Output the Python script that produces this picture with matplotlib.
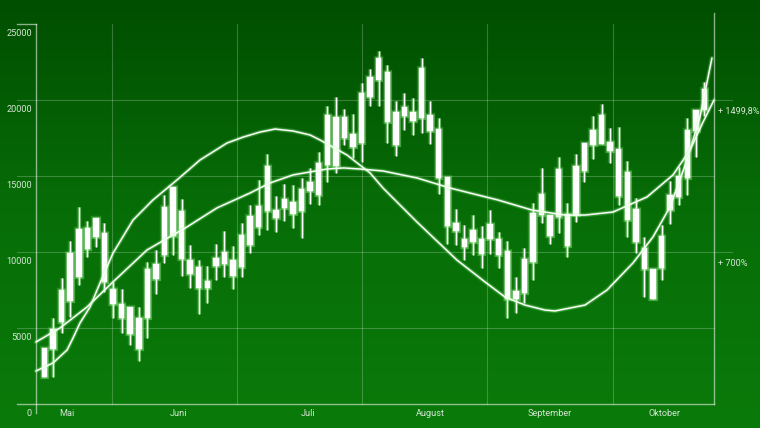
"""Green candlestick chart with two trend curves, written to out.png."""
import numpy as np
import matplotlib
matplotlib.use("Agg")
import matplotlib.pyplot as plt
import matplotlib.patheffects as pe
from matplotlib.colors import LinearSegmentedColormap

# ---- data ----
opens = [1780, 3620, 5400, 6780, 8360, 10200, 10990, 8030, 6580, 5660,
         4610, 3620, 5660, 8220, 9800, 11050, 9540, 8550, 7630, 7630,
         9080, 9210, 8420, 9010, 10460, 11650, 12700, 12240, 12890, 12500,
         12700, 14010, 13750, 15720, 15660, 17500, 16910, 17170, 20200, 21320,
         18550, 17040, 18950, 18620, 18820, 17960, 14870, 11710, 11380, 10330,
         10660, 9870, 10860, 9800, 6910, 6910, 7300, 9340, 12430, 11050,
         12300, 10390, 12430, 15330, 17040, 17110, 16650, 13680, 12110, 10660,
         8880, 6910, 8950, 12760, 13620, 14870, 17960, 19340]
closes = [3680, 4930, 7500, 9930, 11510, 11580, 12240, 11250, 7570, 6580,
          6380, 5660, 8880, 9210, 12960, 14280, 12700, 9470, 9010, 8090,
          9610, 10000, 9470, 11120, 12370, 13030, 15660, 12760, 13490, 13290,
          14150, 14610, 15860, 19010, 18880, 18880, 17760, 20460, 21510, 22760,
          21840, 19210, 19540, 19210, 22110, 19010, 18090, 14930, 11910, 10860,
          11450, 10860, 11840, 10860, 10070, 7430, 9540, 12570, 13820, 12430,
          15460, 12500, 15660, 17170, 18030, 19010, 17240, 16780, 15260, 12830,
          10260, 8880, 11050, 13750, 15000, 18030, 19340, 20720]
highs = [3680, 5660, 8290, 10720, 12960, 12040, 12240, 11910, 8030, 7570,
         6380, 6380, 9340, 10130, 13750, 14280, 13490, 10460, 9470, 9080,
         10530, 11380, 10390, 11910, 13090, 14740, 16450, 13680, 14470, 14410,
         14870, 15530, 16580, 19610, 20200, 19410, 19080, 21120, 22040, 23220,
         22300, 19930, 20460, 20130, 22760, 19930, 18820, 14930, 12830, 11780,
         12430, 11710, 12760, 11320, 10720, 8360, 10260, 13220, 15530, 12430,
         16250, 13220, 16450, 17170, 18950, 19740, 18160, 18220, 15990, 13550,
         10990, 8880, 11780, 14670, 15590, 18820, 19340, 21180]
lows = [1780, 1780, 4670, 5720, 7830, 9670, 10330, 7370, 5660, 4670,
        3880, 2830, 4340, 7240, 9280, 9800, 8420, 7630, 5920, 6650,
        8160, 8360, 7570, 8360, 9930, 11120, 11450, 11320, 12040, 11580,
        10920, 13160, 13090, 14610, 15200, 17040, 16180, 15920, 19610, 19610,
        17170, 16320, 18030, 17700, 17830, 17110, 13820, 10530, 10460, 9470,
        9800, 8950, 9870, 8950, 5660, 5990, 6650, 8160, 11910, 10530,
        11250, 9670, 11970, 14610, 16120, 17110, 15860, 13090, 10990, 9930,
        7040, 6910, 8160, 11840, 13090, 13750, 16250, 18950]

# steep trend curve (x = candle index, y = value)
curve_a_x = [-0.99, 0.99, 2.63, 3.33, 4.14, 5.31, 6.48, 8.0, 10.33, 12.65,
             15.46, 18.14, 21.3, 23.19, 25.15, 26.9, 29.0, 30.98, 32.15, 35.3,
             37.99, 39.5, 43.47, 48.13, 51.4, 53.73, 56.07, 58.4, 59.57, 60.74,
             63.07, 65.64, 68.67, 71.0, 72.98, 74.97, 76.48, 77.88]
curve_a_y = [2170, 2700, 3550, 4340, 5330, 6380, 7960, 9930, 12100, 13420,
             14740, 16050, 17170, 17560, 17890, 18090, 17960, 17700, 17370, 16380,
             15200, 14210, 11970, 9470, 8030, 7040, 6510, 6180, 6120, 6250,
             6510, 7500, 9280, 10990, 12960, 16050, 18880, 22760]
# flat trend curve
curve_b_x = [-0.99, 1.81, 4.96, 7.99, 11.96, 16.63, 20.13, 23.98, 26.31, 29.0,
             32.96, 34.9, 36.81, 39.5, 43.47, 47.32, 49.65, 52.92, 56.88, 60.74,
             63.07, 66.34, 70.3, 73.34, 75.32, 76.84, 78.12]
curve_b_y = [4080, 5000, 6380, 8030, 10130, 11650, 12900, 13880, 14540, 15070,
             15460, 15530, 15460, 15330, 14870, 14210, 13880, 13420, 12760, 12430,
             12430, 12630, 13620, 15070, 16710, 18550, 20000]

y_ticks = [0, 5000, 10000, 15000, 20000, 25000]
month_pos = [2.6, 15.6, 30.7, 45.0, 59.0, 72.3]
month_labels = ["Mai", "Juni", "Juli", "August", "September", "Oktober"]
month_grid = [7.88, 22.47, 37.06, 51.64, 66.34]
right_levels = [20000, 10000]
right_labels = ["+ 1499,8%", "+ 700%"]

W, H = 760, 428
TXT = "#d4e6d4"
GLOW = "#a8ff9c"

fig = plt.figure(figsize=(W / 100, H / 100), dpi=100)

# background gradient
bg = fig.add_axes([0, 0, 1, 1], zorder=-1)
cmap = LinearSegmentedColormap.from_list("g", ["#004e00", "#076e07", "#0a7a0a"])
bg.imshow(np.linspace(0, 1, 256)[:, None], aspect="auto", cmap=cmap, extent=(0, 1, 0, 1))
bg.set_axis_off()

ax = fig.add_axes([36 / W, (H - 404) / H, 678 / W, 380 / H])
ax.set_facecolor("none")
ax.set_xlim(-0.99, 78.12)
ax.set_ylim(0, 25000)
for s in ax.spines.values():
    s.set_visible(False)
ax.set_xticks([]); ax.set_yticks([])

ext_l = -19 / 678
ext_r = 1 + 18 / 678
yt = ax.get_yaxis_transform()
xt = ax.get_xaxis_transform()
grid_kw = dict(color="white", alpha=0.22, lw=0.8, clip_on=False, zorder=1)
for v in [5000, 10000, 15000, 20000]:
    right = ext_r if v in right_levels else 1
    ax.plot([ext_l, right], [v, v], transform=yt, **grid_kw)
for g in month_grid:
    ax.plot([g, g], [0, 1], transform=xt, **grid_kw)

axis_kw = dict(color="white", alpha=0.55, lw=1.0, clip_on=False, zorder=1)
ax.plot([ext_l, 1], [0, 0], transform=yt, **axis_kw)
ax.plot([ext_l, 0], [25000, 25000], transform=yt, **axis_kw)
ax.plot([0, 0], [-9 / 380, 1], transform=ax.transAxes, **axis_kw)
ax.plot([1, 1], [0, 1 + 11 / 380], transform=ax.transAxes, **axis_kw)

# labels
font = dict(family="Roboto", fontsize=6.6, color=TXT)
for v in y_ticks:
    ax.annotate(str(v), (0, v), xycoords=yt, xytext=(-4, -10), textcoords="offset pixels",
                ha="right", va="center", **font)
for p, lab in zip(month_pos, month_labels):
    ax.annotate(lab, (p, 0), xycoords=xt, xytext=(0, -10), textcoords="offset pixels",
                ha="center", va="center", **font)
for v, lab in zip(right_levels, right_labels):
    ax.annotate(lab, (1, v), xycoords=yt, xytext=(4, -11), textcoords="offset pixels",
                ha="left", va="center", **font)

glow_c = [pe.Stroke(linewidth=3.2, foreground=GLOW, alpha=0.18),
          pe.Stroke(linewidth=2.0, foreground=GLOW, alpha=0.3), pe.Normal()]
glow_l = [pe.Stroke(linewidth=3.4, foreground=GLOW, alpha=0.15),
          pe.Stroke(linewidth=2.2, foreground=GLOW, alpha=0.25), pe.Normal()]

# candles
x = np.arange(len(opens))
o = np.array(opens); c = np.array(closes)
lo_body = np.minimum(o, c); hi_body = np.maximum(o, c)
ax.vlines(x, lows, highs, color="white", lw=1.0, zorder=3, path_effects=glow_c)
ax.bar(x, hi_body - lo_body, bottom=lo_body, width=0.64, color="white",
       edgecolor="white", lw=0.3, zorder=4, path_effects=glow_c)

# trend curves
for cx, cy in [(curve_a_x, curve_a_y), (curve_b_x, curve_b_y)]:
    ax.plot(cx, cy, color="white", lw=1.05, zorder=5, clip_on=False,
            solid_joinstyle="round", solid_capstyle="round", path_effects=glow_l)

fig.savefig("out.png", dpi=100)
